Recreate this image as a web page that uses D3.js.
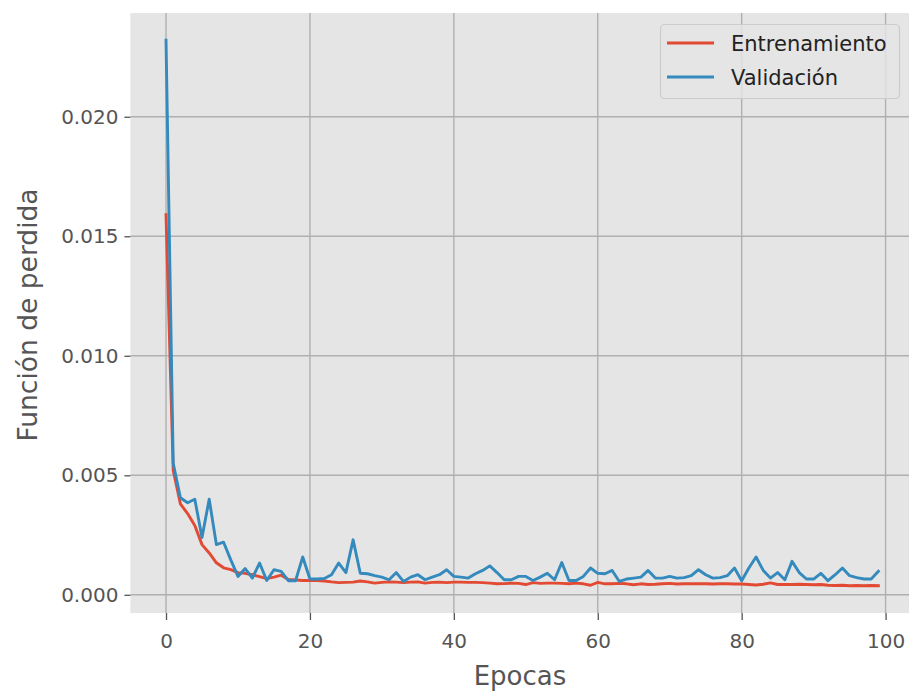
<!DOCTYPE html>
<meta charset="utf-8">
<style>
  body { margin: 0; background: #fff; }
  text { font-family: "DejaVu Sans", sans-serif; }
</style>
<svg width="909" height="691"></svg>
<script src="https://d3js.org/d3.v7.min.js"></script>
<script>

// loss per epoch
var train = [0.0159, 0.0052, 0.0038, 0.0034, 0.0029, 0.0021, 0.00175, 0.00134, 0.00113, 0.00105,
  0.00093, 0.0009, 0.00084, 0.00076, 0.00068, 0.00074, 0.00082, 0.00064, 0.00062, 0.0006,
  0.0006, 0.0006, 0.00058, 0.00054, 0.00051, 0.00052, 0.00053, 0.00058, 0.00054, 0.00049,
  0.00052, 0.00054, 0.00053, 0.00051, 0.00053, 0.00054, 0.00049, 0.00052, 0.00053, 0.00051,
  0.00053, 0.00053, 0.00052, 0.00052, 0.00051, 0.00049, 0.00046, 0.00047, 0.00049, 0.00048,
  0.00043, 0.00051, 0.00048, 0.00049, 0.00049, 0.00048, 0.00046, 0.00049, 0.00046, 0.0004,
  0.00052, 0.00046, 0.00046, 0.00048, 0.00046, 0.00042, 0.00046, 0.00043, 0.00044, 0.00046,
  0.00048, 0.00045, 0.00046, 0.00047, 0.00046, 0.00046, 0.00045, 0.00046, 0.00046, 0.00045,
  0.00045, 0.00043, 0.00041, 0.00044, 0.0005, 0.00043, 0.00043, 0.00043, 0.00044, 0.00043,
  0.00042, 0.00043, 0.0004, 0.00039, 0.0004, 0.00038, 0.00039, 0.00038, 0.00039, 0.00038];

var val = [0.0232, 0.0055, 0.00406, 0.00385, 0.004, 0.0024, 0.004, 0.0021, 0.0022, 0.00146,
  0.00077, 0.0011, 0.0007, 0.00133, 0.0006, 0.00105, 0.00098, 0.00059, 0.00059, 0.00158,
  0.00066, 0.00066, 0.00068, 0.00084, 0.00133, 0.00093, 0.0023, 0.0009, 0.00088, 0.0008,
  0.00074, 0.00063, 0.00093, 0.00056, 0.00074, 0.00084, 0.00063, 0.00074, 0.00084, 0.00105,
  0.00077, 0.00074, 0.0007, 0.00088, 0.00102, 0.00121, 0.00093, 0.00063, 0.00063, 0.00077,
  0.00077, 0.0006, 0.00074, 0.0009, 0.00063, 0.00135, 0.0006, 0.0006, 0.00077, 0.00112,
  0.0009, 0.00088, 0.00102, 0.00056, 0.00066, 0.0007, 0.00074, 0.00102, 0.0007, 0.0007,
  0.00077, 0.0007, 0.00072, 0.0008, 0.00105, 0.00084, 0.0007, 0.00072, 0.0008, 0.00112,
  0.00059, 0.00112, 0.00158, 0.00102, 0.0007, 0.00093, 0.00063, 0.0014, 0.00093, 0.00066,
  0.00066, 0.0009, 0.00059, 0.00084, 0.00112, 0.0008, 0.00072, 0.00066, 0.00066, 0.00098];

var seriesNames = ["Entrenamiento", "Validación"];
var xTicks = [0, 20, 40, 60, 80, 100];
var yTicks = [0, 0.005, 0.010, 0.015, 0.020];

var colors = ["#E24A33", "#348ABD"];

var svg = d3.select("svg"),
    plot = {left: 130.4, right: 914, top: 13, bottom: 613};

// matplotlib style 5% margins around the data
var n = train.length;
var xPad = (n - 1) * 0.05;
var all = train.concat(val);
var yMin = d3.min(all), yMax = d3.max(all), yPad = (yMax - yMin) * 0.05;

var x = d3.scaleLinear()
    .domain([-xPad, n - 1 + xPad])
    .range([plot.left, plot.right]);

var y = d3.scaleLinear()
    .domain([yMin - yPad, yMax + yPad])
    .range([plot.bottom, plot.top]);

// background
svg.append("rect")
    .attr("x", plot.left)
    .attr("y", plot.top)
    .attr("width", plot.right - plot.left)
    .attr("height", plot.bottom - plot.top)
    .attr("fill", "#E5E5E5");

// grid
var grid = svg.append("g").attr("stroke", "#b0b0b0").attr("stroke-width", 1.4);
grid.selectAll(".vx").data(xTicks).enter().append("line")
    .attr("x1", function(d) { return x(d); })
    .attr("x2", function(d) { return x(d); })
    .attr("y1", plot.top).attr("y2", plot.bottom);
grid.selectAll(".hy").data(yTicks).enter().append("line")
    .attr("y1", function(d) { return y(d); })
    .attr("y2", function(d) { return y(d); })
    .attr("x1", plot.left).attr("x2", plot.right);

// axes
var xAxis = svg.append("g")
    .attr("transform", "translate(0," + plot.bottom + ")")
    .call(d3.axisBottom(x).tickValues(xTicks).tickSize(7).tickPadding(14).tickFormat(d3.format("d")));

var yAxis = svg.append("g")
    .attr("transform", "translate(" + plot.left + ",0)")
    .call(d3.axisLeft(y).tickValues(yTicks).tickSize(6).tickPadding(6).tickFormat(d3.format(".3f")));

[xAxis, yAxis].forEach(function(a) {
  a.select(".domain").remove();
  a.selectAll("line").attr("stroke", "#555555").attr("stroke-width", 1.3);
  a.selectAll("text")
    .attr("fill", "#555555")
    .attr("font-size", 20)
    .attr("font-family", "DejaVu Sans");
});

// lines
var line = d3.line()
    .x(function(d, i) { return x(i); })
    .y(function(d) { return y(d); });

[train, val].forEach(function(s, k) {
  svg.append("path")
      .datum(s)
      .attr("fill", "none")
      .attr("stroke", colors[k])
      .attr("stroke-width", 2.9)
      .attr("stroke-linejoin", "round")
      .attr("stroke-linecap", "square")
      .attr("d", line);
});

// axis labels
svg.append("text")
    .attr("x", 520)
    .attr("y", 685)
    .attr("text-anchor", "middle")
    .attr("fill", "#555555")
    .attr("font-size", 26)
    .text("Epocas");

svg.append("text")
    .attr("transform", "translate(37," + ((plot.top + plot.bottom) / 2 + 2) + ") rotate(-90)")
    .attr("text-anchor", "middle")
    .attr("fill", "#555555")
    .attr("font-size", 26.5)
    .text("Función de perdida");

// legend
var lg = svg.append("g");
lg.append("rect")
    .attr("x", 660.5)
    .attr("y", 24.5)
    .attr("width", 239)
    .attr("height", 74)
    .attr("rx", 4)
    .attr("fill", "#E5E5E5")
    .attr("fill-opacity", 0.8)
    .attr("stroke", "#cccccc")
    .attr("stroke-width", 1.2);

seriesNames.forEach(function(name, k) {
  var ly = 43 + k * 34;
  lg.append("line")
      .attr("x1", 667).attr("x2", 714)
      .attr("y1", ly).attr("y2", ly)
      .attr("stroke", colors[k])
      .attr("stroke-width", 2.9);
  lg.append("text")
      .attr("x", 731)
      .attr("y", ly + 7.5)
      .attr("fill", "#222222")
      .attr("font-size", 21)
      .text(name);
});

</script>
